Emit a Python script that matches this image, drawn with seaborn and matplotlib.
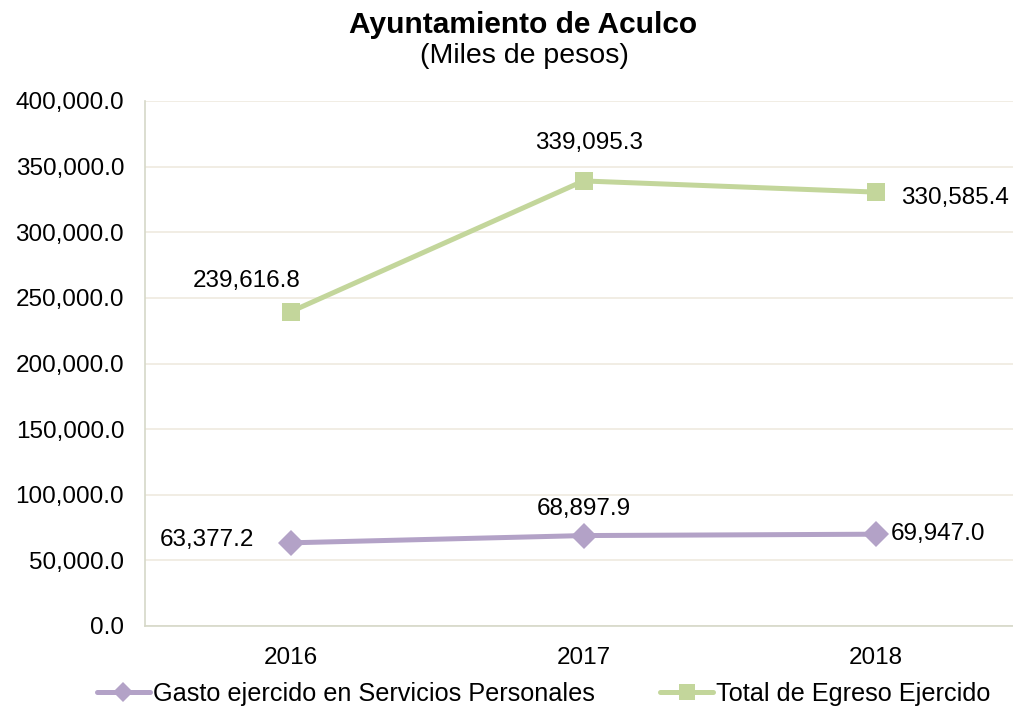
import numpy as np
import pandas as pd
import matplotlib
matplotlib.use("Agg")
import matplotlib.pyplot as plt
import seaborn as sns

# data
years = [2016, 2017, 2018]
gasto_personal = [63377.2, 68897.9, 69947.0]
total_egreso = [239616.8, 339095.3, 330585.4]
series_names = ["Gasto ejercido en Servicios Personales", "Total de Egreso Ejercido"]

df = pd.DataFrame({
    "year": years * 2,
    "value": gasto_personal + total_egreso,
    "serie": [series_names[0]] * 3 + [series_names[1]] * 3,
})

sns.set_theme(style="white")
plt.rcParams["font.family"] = ["Liberation Sans", "DejaVu Sans"]
plt.rcParams["text.color"] = "black"

purple = "#B3A2C7"
green = "#C3D69B"
fs = 17.5

fig = plt.figure(figsize=(10.13, 7.08), dpi=100)
ax = fig.add_axes([145 / 1013, 1 - 626 / 708, (1022 - 145) / 1013, (626 - 101) / 708])

sns.lineplot(data=df, x="year", y="value", hue="serie", style="serie",
             palette=[purple, green], markers={series_names[0]: "D", series_names[1]: "s"},
             dashes=False, linewidth=3.6, markersize=13, markeredgewidth=0,
             ax=ax, legend=False)

ax.set_xlim(2015.5, 2018.5)
ax.set_ylim(0, 400000)
ax.set_xticks(years)
ax.set_xticklabels([str(y) for y in years])
ax.set_yticks(np.arange(0, 400001, 50000))
ax.yaxis.set_major_formatter(matplotlib.ticker.FuncFormatter(lambda v, p: f"{v:,.1f}"))
ax.tick_params(axis="both", length=0, labelsize=fs, colors="black")
ax.tick_params(axis="y", pad=15)
ax.tick_params(axis="x", pad=15)
ax.set_xlabel("")
ax.set_ylabel("")
ax.grid(axis="y", color="#EFEADF", linewidth=1.2)
ax.set_axisbelow(True)
for s in ["top", "right"]:
    ax.spines[s].set_visible(False)
for s in ["left", "bottom"]:
    ax.spines[s].set_color("#D6D8C8")
    ax.spines[s].set_linewidth(1.2)

# data labels
fmt = lambda v: f"{v:,.1f}"
lab_kw = dict(textcoords="offset points", fontsize=fs, color="black", va="center")
ax.annotate(fmt(gasto_personal[0]), (years[0], gasto_personal[0]), xytext=(-61, 2), ha="center", **lab_kw)
ax.annotate(fmt(gasto_personal[1]), (years[1], gasto_personal[1]), xytext=(0, 19), ha="center", **lab_kw)
ax.annotate(fmt(gasto_personal[2]), (years[2], gasto_personal[2]), xytext=(45, 0), ha="center", **lab_kw)
ax.annotate(fmt(total_egreso[0]), (years[0], total_egreso[0]), xytext=(-32, 22), ha="center", **lab_kw)
ax.annotate(fmt(total_egreso[1]), (years[1], total_egreso[1]), xytext=(4, 27), ha="center", **lab_kw)
ax.annotate(fmt(total_egreso[2]), (years[2], total_egreso[2]), xytext=(57, -4), ha="center", **lab_kw)

fig.text(523 / 1013, 1 - 25 / 708, "Ayuntamiento de Aculco", ha="center", va="center",
         fontsize=21.5, fontweight="bold")
fig.text(524 / 1013, 1 - 56 / 708, "(Miles de pesos)", ha="center", va="center", fontsize=20.5)

handles = [
    matplotlib.lines.Line2D([], [], color=purple, marker="D", linewidth=3.6, markersize=10, markeredgewidth=0),
    matplotlib.lines.Line2D([], [], color=green, marker="s", linewidth=3.6, markersize=11, markeredgewidth=0),
]
fig.legend(handles, series_names, loc="center", bbox_to_anchor=(543.5 / 1013, 1 - 694 / 708),
           ncol=2, frameon=False, fontsize=18.2, handlelength=2.1, handletextpad=0.1,
           columnspacing=2.6, borderaxespad=0)

fig.savefig("out.png", dpi=100)
